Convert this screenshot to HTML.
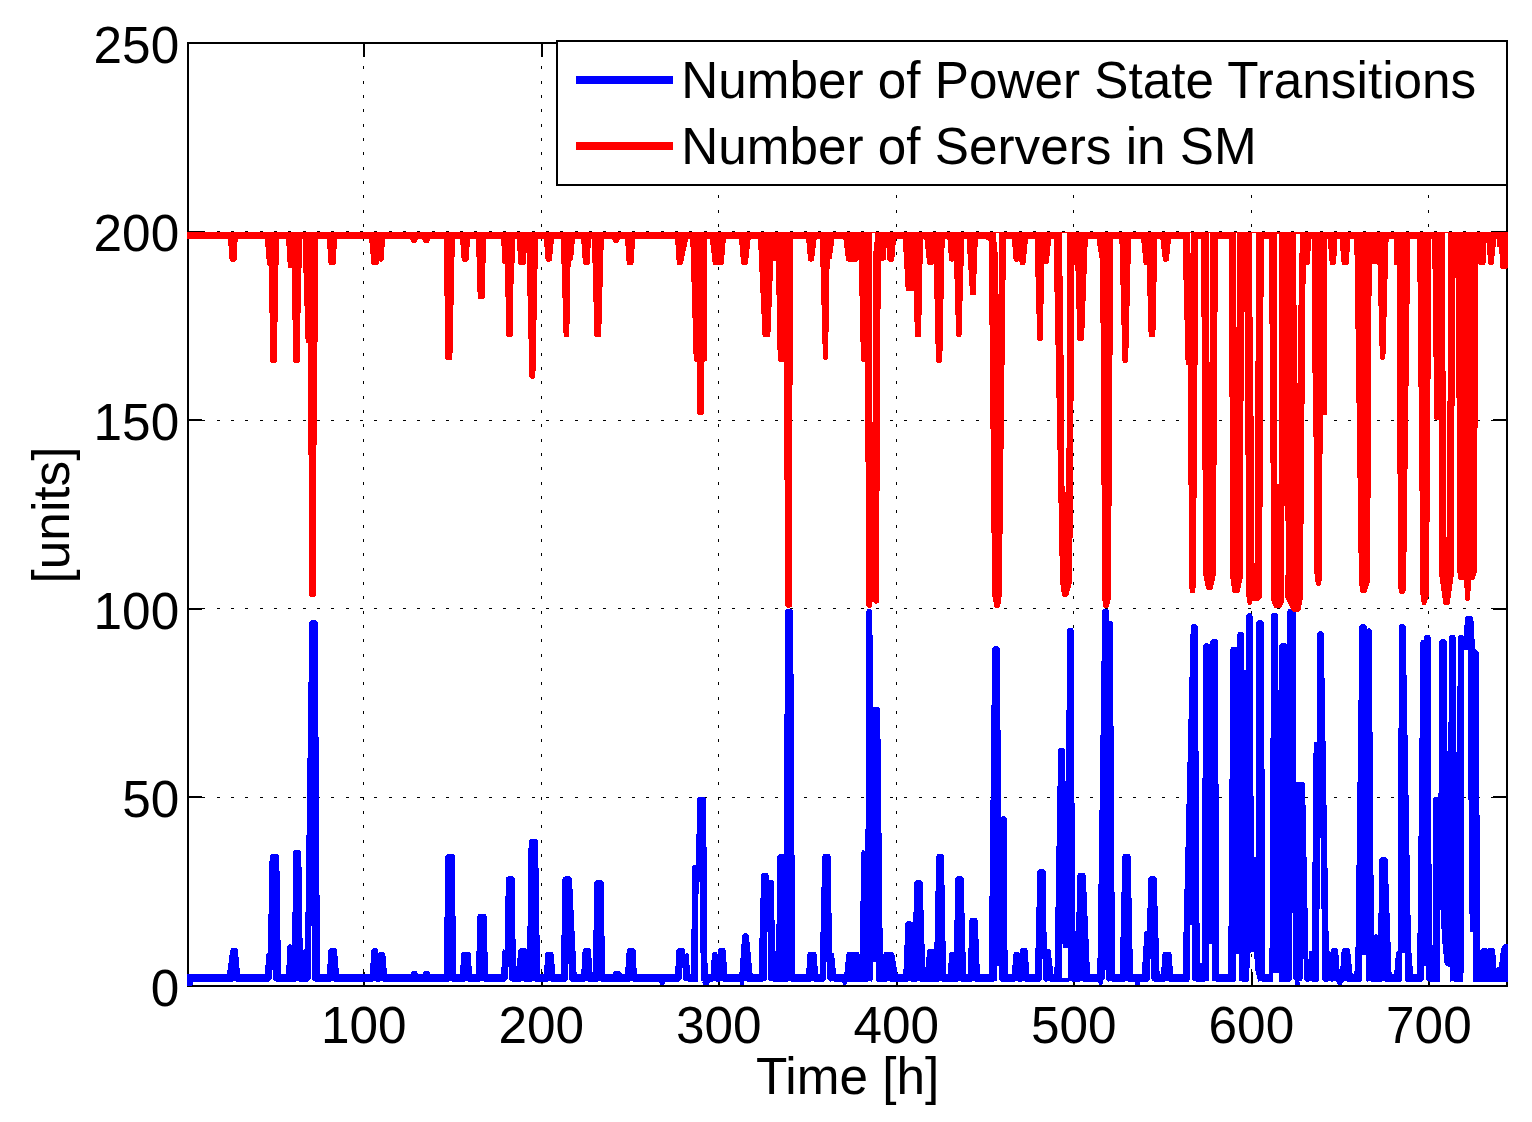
<!DOCTYPE html>
<html lang="en"><head><meta charset="utf-8"><title>Power State Transitions</title>
<style>html,body{margin:0;padding:0;background:#fff}svg{display:block}text{font-family:"Liberation Sans",Arial,Helvetica,sans-serif;font-size:51.3px;fill:#000}</style></head><body>
<svg width="1532" height="1122" viewBox="0 0 1532 1122">
<rect x="0" y="0" width="1532" height="1122" fill="#fff"/>
<g><g stroke="#000" stroke-width="2" shape-rendering="crispEdges" fill="none">
<rect x="188" y="43" width="1319" height="943"/>
<line x1="364" y1="985" x2="364" y2="972"/>
<line x1="364" y1="44" x2="364" y2="57"/>
<line x1="542" y1="985" x2="542" y2="972"/>
<line x1="542" y1="44" x2="542" y2="57"/>
<line x1="719" y1="985" x2="719" y2="972"/>
<line x1="719" y1="44" x2="719" y2="57"/>
<line x1="897" y1="985" x2="897" y2="972"/>
<line x1="897" y1="44" x2="897" y2="57"/>
<line x1="1074" y1="985" x2="1074" y2="972"/>
<line x1="1074" y1="44" x2="1074" y2="57"/>
<line x1="1252" y1="985" x2="1252" y2="972"/>
<line x1="1252" y1="44" x2="1252" y2="57"/>
<line x1="1429" y1="985" x2="1429" y2="972"/>
<line x1="1429" y1="44" x2="1429" y2="57"/>
<line x1="189" y1="797" x2="202" y2="797"/>
<line x1="1506" y1="797" x2="1493" y2="797"/>
<line x1="189" y1="609" x2="202" y2="609"/>
<line x1="1506" y1="609" x2="1493" y2="609"/>
<line x1="189" y1="420" x2="202" y2="420"/>
<line x1="1506" y1="420" x2="1493" y2="420"/>
<line x1="189" y1="232" x2="202" y2="232"/>
<line x1="1506" y1="232" x2="1493" y2="232"/>
</g>
<g stroke="#000" stroke-width="1" shape-rendering="crispEdges" fill="none" stroke-dasharray="3 11.324">
<line x1="363.5" y1="986" x2="363.5" y2="43" stroke-dashoffset="0"/>
<line x1="541.5" y1="986" x2="541.5" y2="43" stroke-dashoffset="0"/>
<line x1="718.5" y1="986" x2="718.5" y2="43" stroke-dashoffset="0"/>
<line x1="896.5" y1="986" x2="896.5" y2="43" stroke-dashoffset="0"/>
<line x1="1073.5" y1="986" x2="1073.5" y2="43" stroke-dashoffset="0"/>
<line x1="1251.5" y1="986" x2="1251.5" y2="43" stroke-dashoffset="0"/>
<line x1="1428.5" y1="986" x2="1428.5" y2="43" stroke-dashoffset="0"/>
<line x1="188" y1="797.5" x2="1507" y2="797.5" stroke-dashoffset="0"/>
<line x1="188" y1="608.5" x2="1507" y2="608.5" stroke-dashoffset="0"/>
<line x1="188" y1="420.5" x2="1507" y2="420.5" stroke-dashoffset="0"/>
<line x1="188" y1="231.5" x2="1507" y2="231.5" stroke-dashoffset="0"/>
</g></g>
<g shape-rendering="crispEdges" stroke="none">
<rect x="187" y="974" width="1321" height="8" fill="#00f"/>
<path fill="#00f" d="M187,974.8L189.5,973.8L193.2,981.9L192.2,986L187,986ZM227,982L227,974L230.2,950.3L230.9,948.7L232.5,948L235.6,948L237.2,948.7L237.9,950.3L240.1,974L240.1,982ZM264.9,982L264.9,974L266.2,954.6L266.8,953.3L268.1,952.7L268.1,952.7L269.4,953.3L269.9,954.6L269.9,974L269.9,982ZM267.4,982L267.4,974L269.6,856.3L270.3,854.7L271.9,854L277,854L278.6,854.7L279.3,856.3L281,974L281,982ZM286.1,982L286.1,974L287.3,946.6L287.9,944.9L289.6,944.3L290.6,944.3L292.2,944.9L292.9,946.6L292.9,974L292.9,982ZM292,982L292,974L293,852.4L293.7,850.8L295.3,850.1L299,850.1L300.7,850.8L301.3,852.4L303,974L303,982ZM302.2,982L302.2,974L303,951L303.6,949.9L304.7,949.3L304.7,949.3L305.9,949.9L306.4,951L306.4,974L306.4,982ZM304.7,982L304.7,974L309.3,622.4L310,620.8L311.6,620.1L315.5,620.1L317.1,620.8L317.8,622.4L320,974L320,982ZM326.8,982L326.8,974L328.5,950.3L329.2,948.7L330.8,948L334.7,948L336.3,948.7L337,950.3L339,974L339,982ZM369.7,982L369.7,974L371.4,950.3L372.1,948.7L373.7,948L375.9,948L377.5,948.7L378.2,950.3L379.4,974L379.4,982ZM376.9,982L376.9,974L377.7,954.2L378.4,952.6L380,951.9L383.1,951.9L384.7,952.6L385.4,954.2L387,974L387,982ZM410,982L410,974L411.1,973.4L411.8,971.8L413.4,971.1L415.6,971.1L417.2,971.8L417.9,973.4L419,974L419,982ZM421.8,982L421.8,974L423,973.4L423.7,971.8L425.3,971.1L427.9,971.1L429.5,971.8L430.2,973.4L431.2,974L431.2,982ZM443.7,982L443.7,974L445.4,856.3L446.1,854.7L447.7,854L452.6,854L454.2,854.7L454.9,856.3L456.1,974L456.1,982ZM460,982L460,974L461.2,954.2L461.9,952.6L463.5,951.9L468.6,951.9L470.2,952.6L470.9,954.2L471.9,974L471.9,982ZM476,982L476,974L477.3,916.3L478,914.7L479.6,914L484.4,914L486,914.7L486.7,916.3L488,974L488,982ZM501.1,982L501.1,974L502.5,950.8L502.9,949.8L503.9,949.3L503.9,949.3L504.9,949.8L505.3,950.8L505.3,974L505.3,982ZM504.2,982L504.2,974L505.8,878.7L506.5,877.1L508.1,876.4L512.4,876.4L514,877.1L514.7,878.7L516,974L516,982ZM515.5,982L515.5,974L518.4,950.3L519.1,948.7L520.7,948L525.1,948L526.7,948.7L527.4,950.3L528.3,974L528.3,982ZM526.9,982L526.9,974L528.6,841.3L529.3,839.7L530.9,839L535.8,839L537.4,839.7L538.1,841.3L540.1,974L540.1,982ZM543.9,982L543.9,974L545.2,954.2L545.9,952.6L547.5,951.9L551.4,951.9L553,952.6L553.7,954.2L555.4,974L555.4,982ZM560.8,982L560.8,974L562.5,878.7L563.2,877.1L564.8,876.4L569.7,876.4L571.3,877.1L572,878.7L576.6,974L576.6,982ZM581.2,982L581.2,974L582.6,950.3L583.2,948.7L584.9,948L588.7,948L590.4,948.7L591,950.3L592.7,974L592.7,982ZM592.7,982L592.7,974L594.4,882.4L595.1,880.8L596.7,880.1L601.5,880.1L603.1,880.8L603.8,882.4L605,974L605,982ZM611.7,982L611.7,974L613.1,973.4L613.8,971.8L615.4,971.1L619.3,971.1L620.9,971.8L621.6,973.4L623,974L623,982ZM625,982L625,974L626.7,950.3L627.4,948.7L629,948L633.2,948L634.8,948.7L635.5,950.3L636.9,974L636.9,982ZM658.9,981L660.4,985L664.2,985L665.7,981ZM675.1,982L675.1,974L676.4,950.3L677.1,948.7L678.7,948L682.9,948L684.5,948.7L685.2,950.3L686.1,974L686.1,982ZM684.4,982L684.4,974L685.2,954.4L685.7,953.3L686.9,952.7L686.9,952.7L688.1,953.3L688.6,954.4L690.3,974L690.3,982ZM690.8,982L690.8,974L692.5,866.4L693.1,865.1L694.4,864.5L694.4,864.5L695.7,865.1L696.3,866.4L696.3,974L696.3,982ZM694.2,982L694.2,974L697.1,799.2L697.8,797.6L699.4,796.9L703.8,796.9L705.4,797.6L706.1,799.2L707.6,974L707.6,982ZM701.7,981L703.2,985L708.7,985L710.2,981ZM710.5,982L710.5,974L711.9,954.2L712.6,952.6L714.2,951.9L715.5,951.9L717.1,952.6L717.8,954.2L718.7,974L718.7,982ZM716.6,982L716.6,974L717.7,950.3L718.3,948.7L720,948L723.5,948L725.1,948.7L725.8,950.3L727.2,974L727.2,982ZM739.4,982L739.4,974L742.1,935.5L742.8,933.9L744.4,933.2L746.6,933.2L748.2,933.9L748.9,935.5L752.6,974L752.6,982ZM739,981L740.5,985L743.5,985L745,981ZM758.6,982L758.6,974L761.1,875.3L761.8,873.7L763.4,873L766.4,873L768,873.7L768.7,875.3L769.6,974L769.6,982ZM767.9,982L767.9,974L768.7,882.1L769.4,880.5L771,879.8L771.5,879.8L773.1,880.5L773.8,882.1L775.5,974L775.5,982ZM774.3,982L774.3,974L774.3,952.6L774.7,951.6L775.7,951.2L775.7,951.2L776.6,951.6L777,952.6L777,974L777,982ZM776,982L776,974L777.2,856.6L777.9,855L779.5,854.3L792.7,854.3L794.3,855L795,856.6L795,974L795,982ZM782.8,982L782.8,974L785.2,611.2L785.9,609.6L787.5,608.9L790.9,608.9L792.5,609.6L793.2,611.2L795,974L795,982ZM806.1,982L806.1,974L807.4,954.2L808.1,952.6L809.7,951.9L814.5,951.9L816.1,952.6L816.8,954.2L818,974L818,982ZM819.6,982L819.6,974L822.2,856.3L822.9,854.7L824.5,854L828.4,854L830,854.7L830.7,856.3L832.4,974L832.4,982ZM830.7,982L830.7,974L831.5,954L831.9,953.1L832.8,952.7L832.8,952.7L833.7,953.1L834.1,954L836.1,974L836.1,982ZM844.3,982L844.3,974L846.3,954.2L847,952.6L848.6,951.9L857.2,951.9L858.8,952.6L859.5,954.2L860.4,974L860.4,982ZM841.7,981L843.2,985L846.2,985L847.7,981ZM859.5,982L859.5,974L861.2,852.2L861.9,850.7L863.3,850.1L863.3,850.1L864.8,850.7L865.5,852.2L865.5,974L865.5,982ZM865,982L865,974L866.3,611.2L867,609.6L868.6,608.9L870.1,608.9L871.7,609.6L872.4,611.2L874.1,974L874.1,982ZM869.7,982L869.7,974L869.7,709.3L870.4,707.7L872,707L877.9,707L879.5,707.7L880.2,709.3L883,974L883,982ZM882.4,982L882.4,974L883.3,954.2L884,952.6L885.6,951.9L892,951.9L893.6,952.6L894.3,954.2L897.7,974L897.7,982ZM903.3,982L903.3,974L905.4,923.6L906,922L907.7,921.3L910.7,921.3L912.3,922L913,923.6L913.8,974L913.8,982ZM912.1,982L912.1,974L914.2,882.4L914.9,880.8L916.5,880.1L920.4,880.1L922,880.8L922.7,882.4L925.4,974L925.4,982ZM924.9,982L924.9,974L927.1,950.8L927.8,949.2L929.4,948.5L932.8,948.5L934.4,949.2L935.1,950.8L935.1,974L935.1,982ZM933.9,982L933.9,974L936.2,856.3L936.9,854.7L938.5,854L941.7,854L943.4,854.7L944,856.3L946.1,974L946.1,982ZM947.8,982L947.8,974L949.1,954.2L949.8,952.6L951.4,951.9L953.1,951.9L954.7,952.6L955.4,954.2L955.4,974L955.4,982ZM953.4,982L953.4,974L955.4,878.7L956.1,877.1L957.7,876.4L961.3,876.4L962.9,877.1L963.6,878.7L966.1,974L966.1,982ZM967.8,982L967.8,974L969.3,920.3L970,918.6L971.6,918L975.5,918L977.1,918.6L977.8,920.3L979.9,974L979.9,982ZM988.7,982L988.7,974L992.1,648.5L992.8,646.9L994.4,646.2L997.4,646.2L999,646.9L999.7,648.5L1003,974L1003,982ZM1000.9,982L1000.9,974L1000.9,818.4L1001.6,816.8L1003.2,816.1L1004.2,816.1L1005.8,816.8L1006.5,818.4L1007.7,974L1007.7,982ZM1011.9,982L1011.9,974L1013.3,954.2L1014,952.6L1015.6,951.9L1017.6,951.9L1019.2,952.6L1019.9,954.2L1020.4,974L1020.4,982ZM1018.7,982L1018.7,974L1019.6,950.3L1020.3,948.7L1021.9,948L1025.4,948L1027,948.7L1027.7,950.3L1029.3,974L1029.3,982ZM1034.9,982L1034.9,974L1037.4,871.4L1038.1,869.8L1039.7,869.1L1043.2,869.1L1044.9,869.8L1045.5,871.4L1047.2,974L1047.2,982ZM1045.9,982L1045.9,974L1046.7,950.4L1047.3,949.1L1048.6,948.5L1048.6,948.5L1049.9,949.1L1050.5,950.4L1053.5,974L1053.5,982ZM1054.4,982L1054.4,974L1058.1,750.4L1058.8,748.8L1060.4,748.1L1063.1,748.1L1064.7,748.8L1065.4,750.4L1065.4,974L1065.4,982ZM1064.6,982L1064.6,974L1067.1,630.4L1067.8,628.8L1069.4,628.1L1071.6,628.1L1073.2,628.8L1073.9,630.4L1075.1,974L1075.1,982ZM1063.7,982L1063.7,974L1063.7,782.9L1064.3,781.5L1065.8,780.8L1065.8,780.8L1067.3,781.5L1068,782.9L1068,974L1068,982ZM1075.2,982L1075.2,974L1077.3,875.3L1078,873.7L1079.6,873L1083.5,873L1085.1,873.7L1085.8,875.3L1090,974L1090,982ZM1073.9,982L1073.9,974L1074.7,932L1075.1,931.1L1076,930.7L1076,930.7L1076.9,931.1L1077.3,932L1077.3,974L1077.3,982ZM1097.3,982L1097.3,974L1102.2,611.2L1102.9,609.6L1104.5,608.9L1106.9,608.9L1108.5,609.6L1109.2,611.2L1110.4,974L1110.4,982ZM1107.8,982L1107.8,974L1108.7,622.6L1109.3,621.1L1110.8,620.4L1110.8,620.4L1112.3,621.1L1112.9,622.6L1115,974L1115,982ZM1097.7,981L1099.2,985L1102.1,985L1103.6,981ZM1119.7,982L1119.7,974L1122.3,856.3L1122.9,854.7L1124.6,854L1128.4,854L1130.1,854.7L1130.7,856.3L1133,974L1133,982ZM1141.8,982L1141.8,974L1144.3,932.8L1145,931.3L1146.4,930.7L1146.4,930.7L1147.9,931.3L1148.6,932.8L1148.6,974L1148.6,982ZM1146,982L1146,974L1148.2,878.7L1148.9,877.1L1150.5,876.4L1154.4,876.4L1156,877.1L1156.7,878.7L1159.6,974L1159.6,982ZM1134.1,981L1135.6,985L1139.4,985L1140.9,981ZM1161,982L1161,974L1162.5,954.2L1163.2,952.6L1164.8,951.9L1169.2,951.9L1170.8,952.6L1171.5,954.2L1173.2,974L1173.2,982ZM1182.5,982L1182.5,974L1190.7,626.5L1191.3,624.9L1193,624.2L1195.5,624.2L1197.1,624.9L1197.8,626.5L1199.8,974L1199.8,982ZM1199.3,982L1199.3,974L1199.3,964.4L1199.8,963.4L1200.8,962.9L1200.8,962.9L1201.8,963.4L1202.2,964.4L1202.2,974L1202.2,982ZM1201.5,982L1201.5,974L1203.2,645.7L1203.9,644L1205.5,643.4L1207.7,643.4L1209.3,644L1210,645.7L1210.4,974L1210.4,982ZM1209,982L1209,974L1210.4,641.4L1211.1,639.8L1212.7,639.1L1215.7,639.1L1217.3,639.8L1218,641.4L1219.2,974L1219.2,982ZM1228.2,982L1228.2,974L1230.4,649L1231.1,647.4L1232.7,646.7L1235.2,646.7L1236.8,647.4L1237.5,649L1237.5,974L1237.5,982ZM1236.7,982L1236.7,974L1237.5,633.8L1238.2,632.2L1239.8,631.5L1241.7,631.5L1243.3,632.2L1244,633.8L1245.2,974L1245.2,982ZM1245.7,982L1245.7,974L1246.3,615.6L1247,614L1248.6,613.3L1250.2,613.3L1251.8,614L1252.5,615.6L1254.5,974L1254.5,982ZM1243.5,982L1243.5,974L1243.5,671.4L1244,670.2L1245.2,669.7L1245.2,669.7L1246.3,670.2L1246.9,671.4L1246.9,974L1246.9,982ZM1252.8,982L1252.8,974L1252.8,859L1253.4,857.5L1254.9,856.9L1254.9,856.9L1256.4,857.5L1257,859L1257,974L1257,982ZM1255.8,982L1255.8,974L1256.5,622.4L1257.2,620.8L1258.8,620.1L1261.5,620.1L1263.1,620.8L1263.8,622.4L1265.5,974L1265.5,982ZM1269.4,982L1269.4,974L1271.1,615.1L1271.8,613.5L1273.4,612.8L1275.6,612.8L1277.2,613.5L1277.9,615.1L1278.6,974L1278.6,982ZM1278.6,982L1278.6,974L1279.1,645.7L1279.8,644L1281.4,643.4L1285.3,643.4L1286.9,644L1287.6,645.7L1287.6,974L1287.6,982ZM1277.4,982L1277.4,974L1277.4,691.1L1277.7,690.4L1278.5,690L1278.5,690L1279.3,690.4L1279.6,691.1L1279.6,974L1279.6,982ZM1286.7,982L1286.7,974L1287.4,611.2L1288.1,609.6L1289.7,608.9L1293.3,608.9L1294.9,609.6L1295.6,611.2L1297.3,974L1297.3,982ZM1294.5,982L1294.5,974L1295.2,784.3L1295.9,782.7L1297.5,782L1302.8,782L1304.4,782.7L1305.1,784.3L1308.8,974L1308.8,982ZM1308,982L1308,974L1308.8,952.7L1309.3,951.6L1310.5,951L1310.5,951L1311.7,951.6L1312.2,952.7L1313.9,974L1313.9,982ZM1316.1,982L1316.1,974L1317.5,633.4L1318.2,631.8L1319.8,631.1L1321.5,631.1L1323.1,631.8L1323.8,633.4L1329.2,974L1329.2,982ZM1311.5,982L1311.5,974L1313.6,743.9L1314.2,742.4L1315.7,741.8L1315.7,741.8L1317.2,742.4L1317.8,743.9L1317.8,974L1317.8,982ZM1328,982L1328,974L1328.9,951.9L1329.1,951.3L1329.7,951L1329.7,951L1330.3,951.3L1330.6,951.9L1331.4,974L1331.4,982ZM1329.4,982L1329.4,974L1331.1,950.3L1331.8,948.7L1333.4,948L1335.9,948L1337.5,948.7L1338.2,950.3L1339.9,974L1339.9,982ZM1339.9,982L1339.9,974L1341.6,950.3L1342.3,948.7L1343.9,948L1347.8,948L1349.4,948.7L1350.1,950.3L1352.6,974L1352.6,982ZM1355.2,982L1355.2,974L1359.4,626.5L1360.1,624.9L1361.7,624.2L1364.4,624.2L1366,624.9L1366.7,626.5L1367.4,974L1367.4,982ZM1366.2,982L1366.2,974L1367,630.4L1367.7,628.8L1369.3,628.1L1369.5,628.1L1371.1,628.8L1371.8,630.4L1374.2,974L1374.2,982ZM1373.5,982L1373.5,974L1373.8,936.2L1374.5,934.7L1375.9,934.1L1375.9,934.1L1377.4,934.7L1378.1,936.2L1378.1,974L1378.1,982ZM1354.3,982L1354.3,974L1355.5,955.1L1355.7,954.6L1356.2,954.4L1356.2,954.4L1356.7,954.6L1356.9,955.1L1356.9,974L1356.9,982ZM1377.6,982L1377.6,974L1379.3,859.7L1379.9,858.1L1381.6,857.4L1385.4,857.4L1387.1,858.1L1387.7,859.7L1391.6,974L1391.6,982ZM1397.6,982L1397.6,974L1398.9,626.5L1399.6,624.9L1401.2,624.2L1403.4,624.2L1405,624.9L1405.7,626.5L1411.5,974L1411.5,982ZM1394.2,982L1394.2,974L1395.9,953.3L1396.6,951.7L1398.2,951L1409.2,951L1410.8,951.7L1411.5,953.3L1413.2,974L1413.2,982ZM1417.1,982L1417.1,974L1420.5,641.8L1421.1,640.5L1422.4,640L1422.4,640L1423.7,640.5L1424.2,641.8L1424.2,974L1424.2,982ZM1423,982L1423,974L1424.2,637.2L1424.9,635.6L1426.5,634.9L1428.4,634.9L1430,635.6L1430.7,637.2L1431.9,974L1431.9,982ZM1431.2,982L1431.2,974L1431.2,946.5L1431.6,945.5L1432.6,945.1L1432.6,945.1L1433.6,945.5L1434.1,946.5L1434.1,974L1434.1,982ZM1437.6,982L1437.6,974L1439.3,641.4L1440,639.8L1441.6,639.1L1444.5,639.1L1446.1,639.8L1446.8,641.4L1447.7,974L1447.7,982ZM1432.9,982L1432.9,974L1433.2,798.9L1433.9,797.3L1435.5,796.6L1436,796.6L1437.6,797.3L1438.3,798.9L1438.3,974L1438.3,982ZM1447.7,982L1447.7,974L1448.8,637.2L1449.5,635.6L1451.1,634.9L1453.3,634.9L1454.9,635.6L1455.6,637.2L1456.5,974L1456.5,982ZM1456.5,982L1456.5,974L1457.7,637.2L1458.4,635.6L1460,634.9L1461.8,634.9L1463.4,635.6L1464.1,637.2L1463.8,974L1463.8,982ZM1446.8,982L1446.8,974L1446.8,752L1447.1,751.4L1447.7,751.1L1447.7,751.1L1448.2,751.4L1448.5,752L1448.5,974L1448.5,982ZM1455.6,982L1455.6,974L1455.6,752.8L1455.9,752.2L1456.5,752L1456.5,752L1457.1,752.2L1457.3,752.8L1457.3,974L1457.3,982ZM1463.8,650.1L1463.8,634.5L1465,618.1L1466.5,616.2L1471.8,616.2L1473.3,618.1L1474.3,634L1475,649.3L1476.5,649.8L1478.7,652.3L1478.7,815.3L1479.9,815.3L1479.9,974.8L1473.1,974.8L1473.1,932.4L1470.2,932.4L1470.2,913.7L1468.9,913.7L1468.9,800L1468.4,800L1468.4,650.1ZM1479.4,982L1479.4,974L1480.4,950.3L1481.1,948.7L1482.7,948L1493,948L1494.7,948.7L1495.3,950.3L1496.4,974L1496.4,982ZM1499.1,974.8L1499.1,967.2L1500.3,953.6L1501.5,948.5L1503.1,945.1L1505.4,943.9L1508.2,943.9L1508.2,982.4L1499.1,982.4ZM1495.7,982L1495.7,974L1495.7,969.3L1496.4,967.7L1498,967L1498,967L1499.6,967.7L1500.3,969.3L1500.3,974L1500.3,982ZM1294.1,981L1295.6,985L1299.4,985L1300.9,981ZM1336.5,981L1338,985L1341.8,985L1343.3,981Z"/>
<rect x="271.7" y="969.7" width="1" height="12.7" fill="#fff"/>
<rect x="310.5" y="926.4" width="1" height="56" fill="#fff"/>
<rect x="507.7" y="967.2" width="1" height="15.3" fill="#fff"/>
<rect x="568" y="963.8" width="1" height="18.7" fill="#fff"/>
<rect x="681.8" y="968" width="1" height="14.4" fill="#fff"/>
<rect x="766.6" y="931.5" width="1.8" height="50.9" fill="#fff"/>
<rect x="826.4" y="962.1" width="1" height="20.4" fill="#fff"/>
<rect x="872.8" y="962.1" width="3" height="20.4" fill="#fff"/>
<rect x="997.4" y="965.5" width="2" height="17" fill="#fff"/>
<rect x="1042" y="958.7" width="1" height="23.8" fill="#fff"/>
<rect x="1065.1" y="749.4" width="1" height="31.4" fill="#fff"/>
<rect x="1104.8" y="969.7" width="1" height="12.7" fill="#fff"/>
<rect x="1150.1" y="958.7" width="1" height="23.8" fill="#fff"/>
<rect x="1190.2" y="924.7" width="2.2" height="57.7" fill="#fff"/>
<rect x="1209.1" y="944.3" width="2.5" height="38.2" fill="#fff"/>
<rect x="1236.2" y="954.4" width="2.6" height="28" fill="#fff"/>
<rect x="1292.2" y="912.9" width="1" height="69.6" fill="#fff"/>
<rect x="1273.2" y="973.1" width="6" height="9.3" fill="#fff"/>
<rect x="1319.8" y="838.2" width="1.2" height="70.4" fill="#fff"/>
<rect x="1319.4" y="908.6" width="3" height="73.8" fill="#fff"/>
<rect x="1361.9" y="954.8" width="4.5" height="27.7" fill="#fff"/>
<rect x="1401.9" y="952.7" width="3" height="29.7" fill="#fff"/>
<rect x="1496.9" y="952.7" width="2" height="14.3" fill="#fff"/>
<rect x="1302.6" y="958.7" width="1.5" height="23.8" fill="#fff"/>
<rect x="1424" y="966.3" width="1.5" height="16.1" fill="#fff"/>
<path fill="#fff" d="M698.6,881.8L699.5,881.8L700.5,952.7L700.7,982.4L698,982.4L698.1,952.7ZM1062.2,943.1L1063.4,947.8L1068,947.8L1068,978.4L1062.2,978.4ZM1250.6,952.1L1254,952.1L1255.3,969.7L1258.2,982.4L1248.9,982.4L1249.4,969.7ZM1439.8,910L1440.7,910L1441,920L1442.2,941L1443.4,952.9L1444.3,962.9L1445.8,965.5L1449,967L1450.2,968L1450.2,983.3L1439.8,983.3ZM1463.3,973.1L1472.9,973.1L1472.9,983.3L1463.3,983.3ZM1486,947L1487.2,950.4L1488.4,947ZM231.9,982L233.4,980.8L234.8,980.8L236.3,982ZM272.2,982L273.7,980.8L275.1,980.8L276.6,982ZM269,982L271.7,979L272.7,979L275.4,982ZM295,982L296.5,980.8L297.9,980.8L299.4,982ZM311.4,982L312.9,980.8L314.3,980.8L315.8,982ZM307.8,982L310.5,979L311.5,979L314.2,982ZM330.5,982L332,980.8L333.4,980.8L334.9,982ZM372.6,982L374.1,980.8L375.5,980.8L377,982ZM379.3,982L380.8,980.8L382.2,980.8L383.7,982ZM448,982L449.5,980.8L450.9,980.8L452.4,982ZM463.9,982L465.4,980.8L466.8,980.8L468.3,982ZM479.8,982L481.3,980.8L482.7,980.8L484.2,982ZM508.1,982L509.6,980.8L511,980.8L512.5,982ZM505,982L507.7,979L508.7,979L511.4,982ZM520.7,982L522.2,980.8L523.6,980.8L525.1,982ZM531.1,982L532.6,980.8L534,980.8L535.5,982ZM547.3,982L548.8,980.8L550.2,980.8L551.7,982ZM565.1,982L566.6,980.8L568,980.8L569.5,982ZM565.3,982L568,979L569,979L571.7,982ZM584.6,982L586.1,980.8L587.5,980.8L589,982ZM596.9,982L598.4,980.8L599.8,980.8L601.3,982ZM628.9,982L630.4,980.8L631.8,980.8L633.3,982ZM678.6,982L680.1,980.8L681.5,980.8L683,982ZM684.7,982L686.2,980.8L687.6,980.8L689.1,982ZM679.1,982L681.8,979L682.8,979L685.5,982ZM699.4,982L700.9,980.8L702.3,980.8L703.8,982ZM712.6,982L714.1,980.8L715.5,980.8L717,982ZM719.5,982L721,980.8L722.4,980.8L723.9,982ZM743.3,982L744.8,980.8L746.2,980.8L747.7,982ZM762.7,982L764.2,980.8L765.6,980.8L767.1,982ZM769.1,982L770.6,980.8L772,980.8L773.5,982ZM764.3,982L767,979L768,979L770.7,982ZM787,982L788.5,980.8L789.9,980.8L791.4,982ZM809.9,982L811.4,980.8L812.8,980.8L814.3,982ZM824.2,982L825.7,980.8L827.1,980.8L828.6,982ZM830.6,982L832.1,980.8L833.5,980.8L835,982ZM823.7,982L826.4,979L827.4,979L830.1,982ZM867.2,982L868.7,980.8L870.1,980.8L871.6,982ZM871.1,982L873.8,979L874.8,979L877.5,982ZM886.6,982L888.1,980.8L889.5,980.8L891,982ZM907,982L908.5,980.8L909.9,980.8L911.4,982ZM916.2,982L917.7,980.8L919.1,980.8L920.6,982ZM937.9,982L939.4,980.8L940.8,980.8L942.3,982ZM957.3,982L958.8,980.8L960.2,980.8L961.7,982ZM971.4,982L972.9,980.8L974.3,980.8L975.8,982ZM993.7,982L995.2,980.8L996.6,980.8L998.1,982ZM995.2,982L997.9,979L998.9,979L1001.6,982ZM1014.4,982L1015.9,980.8L1017.3,980.8L1018.8,982ZM1021.5,982L1023,980.8L1024.4,980.8L1025.9,982ZM1039.3,982L1040.8,980.8L1042.2,980.8L1043.7,982ZM1046.4,982L1047.9,980.8L1049.3,980.8L1050.8,982ZM1039.3,982L1042,979L1043,979L1045.7,982ZM1068.3,982L1069.8,980.8L1071.2,980.8L1072.7,982ZM1079.3,982L1080.8,980.8L1082.2,980.8L1083.7,982ZM1103.5,982L1105,980.8L1106.4,980.8L1107.9,982ZM1108.6,982L1110.1,980.8L1111.5,980.8L1113,982ZM1102.1,982L1104.8,979L1105.8,979L1108.5,982ZM1124.3,982L1125.8,980.8L1127.2,980.8L1128.7,982ZM1150.3,982L1151.8,980.8L1153.2,980.8L1154.7,982ZM1147.4,982L1150.1,979L1151.1,979L1153.8,982ZM1164.8,982L1166.3,980.8L1167.7,980.8L1169.2,982ZM1192,982L1193.5,980.8L1194.9,980.8L1196.4,982ZM1188.1,982L1190.8,979L1191.8,979L1194.5,982ZM1204.4,982L1205.9,980.8L1207.3,980.8L1208.8,982ZM1212,982L1213.5,980.8L1214.9,980.8L1216.4,982ZM1207.2,982L1209.9,979L1210.9,979L1213.6,982ZM1238.5,982L1240,980.8L1241.4,980.8L1242.9,982ZM1247.2,982L1248.7,980.8L1250.1,980.8L1251.6,982ZM1258,982L1259.5,980.8L1260.9,980.8L1262.4,982ZM1234.3,982L1237,979L1238,979L1240.7,982ZM1272.3,982L1273.8,980.8L1275.2,980.8L1276.7,982ZM1289.3,982L1290.8,980.8L1292.2,980.8L1293.7,982ZM1297.9,982L1299.4,980.8L1300.8,980.8L1302.3,982ZM1308.3,982L1309.8,980.8L1311.2,980.8L1312.7,982ZM1289.5,982L1292.2,979L1293.2,979L1295.9,982ZM1273,982L1275.7,979L1276.7,979L1279.4,982ZM1318.4,982L1319.9,980.8L1321.3,980.8L1322.8,982ZM1317.7,982L1320.4,979L1321.4,979L1324.1,982ZM1327.5,982L1329,980.8L1330.4,980.8L1331.9,982ZM1332.4,982L1333.9,980.8L1335.3,980.8L1336.8,982ZM1343.6,982L1345.1,980.8L1346.5,980.8L1348,982ZM1360.9,982L1362.4,980.8L1363.8,980.8L1365.3,982ZM1367.2,982L1368.7,980.8L1370.1,980.8L1371.6,982ZM1381.3,982L1382.8,980.8L1384.2,980.8L1385.7,982ZM1361,982L1363.7,979L1364.7,979L1367.4,982ZM1400.1,982L1401.6,980.8L1403,980.8L1404.5,982ZM1400.2,982L1402.9,979L1403.9,979L1406.6,982ZM1425.3,982L1426.8,980.8L1428.2,980.8L1429.7,982ZM1440.9,982L1442.4,980.8L1443.8,980.8L1445.3,982ZM1450,982L1451.5,980.8L1452.9,980.8L1454.4,982ZM1300.2,982L1302.9,979L1303.9,979L1306.6,982ZM1421.5,982L1424.2,979L1425.2,979L1427.9,982Z"/>
<rect x="187" y="232" width="1321" height="7" fill="#f00"/>
<path fill="#f00" d="M228,232L228,239L229.6,259.9L230,261L231.2,261.5L234.9,261.5L236,261L236.5,259.9L237.7,239L237.7,232ZM264.9,232L264.9,239L266.9,264.1L267.4,265.3L268.5,265.7L277.2,265.7L278.3,265.3L278.8,264.1L278.8,239L278.8,232ZM268.3,232L268.3,239L270.3,361.2L270.8,362.3L271.9,362.8L275.5,362.8L276.6,362.3L277.1,361.2L278.4,239L278.4,232ZM286.1,232L286.1,239L287.8,266.7L288.2,267.8L289.4,268.3L300.6,268.3L301.7,267.8L302.2,266.7L302.2,239L302.2,232ZM291.2,232L291.2,239L293.2,361.2L293.7,362.3L294.8,362.8L298.4,362.8L299.5,362.3L300,361.2L301.3,239L301.3,232ZM302.5,232L302.5,239L305.6,341.4L306.1,342.5L307.2,343L316.2,343L317.3,342.5L317.8,341.4L317.8,239L317.8,232ZM307.3,232L307.3,239L309.3,595.2L309.8,596.4L310.9,596.8L314.2,596.8L315.3,596.4L315.8,595.2L317.5,239L317.5,232ZM326.8,232L326.8,239L328.5,263.3L329,264.4L330.1,264.9L334.2,264.9L335.3,264.4L335.8,263.3L337,239L337,232ZM369.2,232L369.2,239L371.4,263.3L371.9,264.4L373,264.9L377,264.9L378.1,264.4L378.6,263.3L379.4,239L379.4,232ZM377.7,232L377.7,239L378.6,259.9L379,261L380.2,261.5L382.1,261.5L383.2,261L383.7,259.9L385,239L385,232ZM410,232L410,239L411.1,241.2L411.6,242.3L412.7,242.8L415.1,242.8L416.3,242.3L416.7,241.2L417.9,239L417.9,232ZM421.8,232L421.8,239L423,241.2L423.5,242.3L424.6,242.8L427.9,242.8L429,242.3L429.5,241.2L430.7,239L430.7,232ZM443.7,232L443.7,239L445.4,358.3L445.9,359.4L447,359.9L450.8,359.9L451.9,359.4L452.4,358.3L454.9,239L454.9,232ZM460,232L460,239L461.7,259.9L462.2,261L463.3,261.5L466.9,261.5L468,261L468.5,259.9L470.2,239L470.2,232ZM476,232L476,239L477.7,297.6L478.2,298.7L479.3,299.2L482.9,299.2L484,298.7L484.5,297.6L486.2,239L486.2,232ZM501.1,232L501.1,239L502.5,262.8L502.9,263.9L504.1,264.4L513.1,264.4L514.2,263.9L514.7,262.8L514.7,239L514.7,232ZM504.5,232L504.5,239L506.2,335.4L506.7,336.5L507.8,337L511,337L512.2,336.5L512.6,335.4L514.3,239L514.3,232ZM516.7,232L516.7,239L518.4,263.3L518.9,264.4L520,264.9L524.1,264.9L525.2,264.4L525.7,263.3L526.6,239L526.6,232ZM526.2,232L526.2,239L529.4,377L529.9,378.1L531,378.6L533.8,378.6L534.9,378.1L535.4,377L538.1,239L538.1,232ZM543.9,232L543.9,239L545.6,259.9L546,261L547.2,261.5L550.4,261.5L551.5,261L552,259.9L554,239L554,232ZM560.8,232L560.8,239L560.8,259L561.3,260.2L562.4,260.6L571.6,260.6L572.7,260.2L573.2,259L574.9,239L574.9,232ZM560.8,232L560.8,239L563.6,335.4L564,336.5L565.2,337L567.7,337L568.8,336.5L569.3,335.4L571,239L571,232ZM581.2,232L581.2,239L582.9,263.3L583.4,264.4L584.5,264.9L588.1,264.9L589.2,264.4L589.7,263.3L591,239L591,232ZM591.9,232L591.9,239L594.4,335.4L594.9,336.5L596,337L599.6,337L600.7,336.5L601.2,335.4L603.8,239L603.8,232ZM611.7,232L611.7,239L613.1,241.2L613.6,242.3L614.7,242.8L617.4,242.8L618.6,242.3L619,241.2L620.2,239L620.2,232ZM625,232L625,239L626.7,263.3L627.2,264.4L628.3,264.9L631.9,264.9L633,264.4L633.5,263.3L635.2,239L635.2,232ZM675.1,232L675.1,239L676.7,263.3L677.2,264.4L678.3,264.9L681.4,264.9L682.5,264.4L683,263.3L688.1,239L688.1,232ZM690.3,232L690.3,239L693.7,360L694.2,361.1L695.3,361.6L705.2,361.6L706.3,361.1L706.8,360L706.8,239L706.8,232ZM695.4,232L695.4,239L697.5,413.5L697.9,414.6L699.1,415.1L702.3,415.1L703.4,414.6L703.9,413.5L705.6,239L705.6,232ZM709.8,232L709.8,239L712.7,263.3L713.2,264.4L714.3,264.9L722.2,264.9L723.3,264.4L723.8,263.3L725.8,239L725.8,232ZM739,232L739,239L741.1,263.3L741.6,264.4L742.7,264.9L746.3,264.9L747.4,264.4L747.9,263.3L750.6,239L750.6,232ZM758,232L758,239L762.5,335.4L762.9,336.5L764.1,337L768.8,337L770,336.5L770.4,335.4L774.2,239L774.2,232ZM773,232L773,239L773,259.9L773.5,261L774.6,261.5L775.1,261.5L776.2,261L776.7,259.9L776.7,239L776.7,232ZM775.5,232L775.5,239L777.7,360L778.2,361.1L779.3,361.6L791.4,361.6L792.5,361.1L793,360L793,239L793,232ZM782.8,232L782.8,239L785.4,605.9L785.8,607.1L787,607.5L790.2,607.5L791.3,607.1L791.8,605.9L793,239L793,232ZM806.1,232L806.1,239L808.1,259.9L808.6,261L809.7,261.5L812.4,261.5L813.6,261L814,259.9L816.6,239L816.6,232ZM819.8,232L819.8,239L819.8,257.3L820.3,258.5L821.4,258.9L830.4,258.9L831.6,258.5L832,257.3L834.4,239L834.4,232ZM819.8,232L819.8,239L822.9,358.3L823.4,359.4L824.5,359.9L826.5,359.9L827.7,359.4L828.1,358.3L830,239L830,232ZM843.4,232L843.4,239L846,259.9L846.4,261L847.6,261.5L857.1,261.5L858.2,261L858.7,259.9L859.5,239L859.5,232ZM858.3,232L858.3,239L860.9,360L861.4,361.1L862.5,361.6L869.8,361.6L870.9,361.1L871.4,360L871.7,239L871.7,232ZM864.3,232L864.3,239L866.3,605.9L866.8,607.1L867.9,607.5L870.7,607.5L871.8,607.1L872.3,605.9L872.3,239L872.3,232ZM873.4,232L873.4,239L873.8,601.9L874.3,603L875.4,603.5L877.3,603.5L878.4,603L878.9,601.9L880.9,239L880.9,232ZM871.1,232L871.1,239L871.1,600.5L871.6,601.6L872.7,602.1L873.2,602.1L874.3,601.6L874.8,600.5L874.8,239L874.8,232ZM874.8,232L874.8,239L874.8,259L875.3,260.2L876.4,260.6L884.2,260.6L885.4,260.2L885.8,259L886.7,239L886.7,232ZM885.8,232L885.8,239L887.5,259.9L888,261L889.1,261.5L892.7,261.5L893.8,261L894.3,259.9L896,239L896,232ZM902.8,232L902.8,239L905.7,289.6L906.2,290.7L907.3,291.2L912.6,291.2L913.7,290.7L914.2,289.6L914.2,239L914.2,232ZM912.1,232L912.1,239L914.9,335.4L915.3,336.5L916.5,337L919.5,337L920.7,336.5L921.1,335.4L923,239L923,232ZM924.4,232L924.4,239L927.1,263.3L927.6,264.4L928.7,264.9L932.6,264.9L933.7,264.4L934.2,263.3L934.2,239L934.2,232ZM933.2,232L933.2,239L935.9,361.2L936.4,362.3L937.5,362.8L940.7,362.8L941.9,362.3L942.3,361.2L944.7,239L944.7,232ZM947.4,232L947.4,239L949.1,259.9L949.6,261L950.7,261.5L952.5,261.5L953.6,261L954.1,259.9L954.6,239L954.6,232ZM953.4,232L953.4,239L956.1,335.4L956.6,336.5L957.7,337L959.9,337L961.1,336.5L961.5,335.4L964.3,239L964.3,232ZM966.6,232L966.6,239L970,293.8L970.5,295L971.6,295.4L974.2,295.4L975.3,295L975.8,293.8L977.8,239L977.8,232ZM985.6,232L985.6,239L988.7,241L989,241.7L989.7,242L989.7,242L990.4,241.7L990.7,241L990.7,239L990.7,232ZM988.7,232L988.7,239L992.1,595L994.5,606.9L995.5,607.9L999.1,607.9L1000.1,606.9L1001.8,595L1006,239L1006,232ZM1011.9,232L1011.9,239L1013.6,259.9L1014.1,261L1015.2,261.5L1018,261.5L1019.1,261L1019.6,259.9L1019.9,239L1019.9,232ZM1017.9,232L1017.9,239L1019.6,263.3L1020.1,264.4L1021.2,264.9L1023.9,264.9L1025,264.4L1025.5,263.3L1028.1,239L1028.1,232ZM1034.5,232L1034.5,239L1034.5,262.8L1035,263.9L1036.1,264.4L1047.2,264.4L1048.3,263.9L1048.8,262.8L1051.3,239L1051.3,232ZM1034.5,232L1034.5,239L1037.2,339.3L1037.7,340.4L1038.8,340.9L1041.1,340.9L1042.2,340.4L1042.7,339.3L1045,239L1045,232ZM1053.5,232L1053.5,239L1060,581.4L1062,595.7L1063,596.7L1067.3,596.7L1068.3,595.7L1072.2,581.4L1074.7,239L1074.7,232ZM1074.7,232L1074.7,239L1077.3,339.3L1077.8,340.4L1078.9,340.9L1082.5,340.9L1083.6,340.4L1084.1,339.3L1087.8,239L1087.8,232ZM1067.1,232L1067.1,239L1067.1,263.3L1067.6,264.4L1068.7,264.9L1085,264.9L1086.1,264.4L1086.6,263.3L1087.8,239L1087.8,232ZM1096.5,232L1096.5,239L1100.2,262.8L1100.6,263.7L1101.5,264L1101.5,264L1102.4,263.7L1102.7,262.8L1102.7,239L1102.7,232ZM1100,232L1100,239L1102.2,598L1103.1,606.9L1104.1,607.9L1107.7,607.9L1108.7,606.9L1110.9,598L1113.3,239L1113.3,232ZM1119.4,232L1119.4,239L1122.4,361.2L1122.9,362.3L1124,362.8L1126.6,362.8L1127.7,362.3L1128.2,361.2L1131.1,239L1131.1,232ZM1141.1,232L1141.1,239L1143.5,263.3L1144,264.4L1145.1,264.9L1146.1,264.9L1147.2,264.4L1147.7,263.3L1147.7,239L1147.7,232ZM1146,232L1146,239L1148.6,335.4L1149,336.5L1150.2,337L1153.8,337L1154.9,336.5L1155.4,335.4L1157.4,239L1157.4,232ZM1160.4,232L1160.4,239L1162.8,259.9L1163.3,261L1164.4,261.5L1167.3,261.5L1168.4,261L1168.9,259.9L1171,239L1171,232ZM1182.5,232L1182.5,239L1185.6,363.4L1186,364.5L1187.2,365L1196.5,365L1197.6,364.5L1198.1,363.4L1198.1,239L1198.1,232ZM1187.3,232L1187.3,239L1189,584.8L1190,592.3L1191,593.3L1193.9,593.3L1194.9,592.3L1196.1,584.8L1197.8,239L1197.8,232ZM1201,232L1201,239L1203.2,574.3L1206.1,588.5L1207.1,589.5L1211.9,589.5L1212.9,588.5L1215.8,574.3L1218,239L1218,232ZM1228.9,232L1228.9,239L1230.2,576.3L1232.4,591.6L1233.4,592.6L1238.6,592.6L1239.6,591.6L1243,576.3L1244,239L1244,232ZM1244,232L1244,239L1246.5,596.7L1247.7,599.6L1248.7,600.6L1259.4,600.6L1260.4,599.6L1262.1,596.7L1263.8,239L1263.8,232ZM1246.5,232L1246.5,239L1246.9,598.4L1247.7,603.8L1248.7,604.8L1250.9,604.8L1251.9,603.8L1252.8,598.4L1253.1,239L1253.1,232ZM1268.9,232L1268.9,239L1271.5,601.4L1274,607.2L1275,608.2L1280.6,608.2L1281.6,607.2L1284.2,601.4L1285.4,239L1285.4,232ZM1284.2,232L1284.2,239L1285.4,598L1291.8,610.6L1292.8,611.6L1299.3,611.6L1300.3,610.6L1302.9,598L1305.9,239L1305.9,232ZM1305.4,232L1305.4,239L1305.4,263.3L1305.9,264.4L1307,264.9L1308.6,264.9L1309.7,264.4L1310.2,263.3L1310.8,239L1310.8,232ZM1311.9,232L1311.9,239L1312.7,413.5L1313.2,414.6L1314.3,415.1L1325.6,415.1L1326.7,414.6L1327.2,413.5L1327.2,239L1327.2,232ZM1312.2,232L1312.2,239L1314.4,572.9L1315.8,584.8L1316.8,585.8L1320.2,585.8L1321.2,584.8L1322.1,572.9L1323.3,239L1323.3,232ZM1327.7,232L1327.7,239L1329.7,263.3L1330.2,264.4L1331.3,264.9L1334.6,264.9L1335.7,264.4L1336.2,263.3L1337.3,239L1337.3,232ZM1339.5,232L1339.5,239L1341.6,263.3L1342.1,264.4L1343.2,264.9L1347.1,264.9L1348.2,264.4L1348.7,263.3L1350.4,239L1350.4,232ZM1354.3,232L1354.3,239L1358.9,581.4L1360.3,591.9L1361.3,592.9L1365.5,592.9L1366.5,591.9L1370.1,581.4L1371.8,239L1371.8,232ZM1371.3,232L1371.3,239L1371.3,262.8L1371.8,263.9L1372.9,264.4L1375.6,264.4L1376.7,263.9L1377.2,262.8L1378.1,239L1378.1,232ZM1376.9,232L1376.9,239L1379.8,358L1380.2,359.1L1381.4,359.6L1383.8,359.6L1384.9,359.1L1385.4,358L1388.6,239L1388.6,232ZM1393.5,232L1393.5,239L1393.5,263.3L1394,264.4L1395.1,264.9L1396,264.9L1397.1,264.4L1397.6,263.3L1397.6,239L1397.6,232ZM1396.7,232L1396.7,239L1397.9,586.5L1399.3,592.8L1400.3,593.8L1404.2,593.8L1405.2,592.8L1406.1,586.5L1410.3,239L1410.3,232ZM1417.1,232L1417.1,239L1420.5,595L1421.7,603.8L1422.7,604.8L1425.4,604.8L1426.4,603.8L1429,595L1431.5,239L1431.5,232ZM1430.7,232L1430.7,239L1430.7,267.9L1431.1,268.7L1432,269.1L1432,269.1L1432.8,268.7L1433.2,267.9L1433.2,239L1433.2,232ZM1432.4,232L1432.4,239L1434.1,418.4L1434.6,419.5L1435.7,420L1443.8,420L1445,419.5L1445.4,418.4L1445.4,239L1445.4,232ZM1439.2,232L1439.2,239L1439.2,574.3L1443.4,603.8L1444.4,604.8L1448.7,604.8L1449.7,603.8L1453.9,574.3L1455.3,239L1455.3,232ZM1448.2,232L1448.2,239L1457.3,571.2L1458,578.7L1459,579.7L1473.8,579.7L1474.8,578.7L1477,571.2L1478.2,239L1478.2,232ZM1463.8,232L1463.8,239L1464.1,579.7L1465.1,599.6L1466.1,600.6L1469.2,600.6L1470.2,599.6L1470.9,579.7L1471.4,239L1471.4,232ZM1477.7,232L1477.7,239L1478.4,263.3L1478.9,264.4L1480,264.9L1483.9,264.9L1485,264.4L1485.5,263.3L1486.7,239L1486.7,232ZM1486.7,232L1486.7,239L1487.9,263.3L1488.4,264.4L1489.5,264.9L1492.4,264.9L1493.5,264.4L1494,263.3L1495.7,239L1495.7,232ZM1494.7,232L1494.7,239L1494.7,245.5L1495.1,246.6L1496.3,247.1L1498.7,247.1L1499.8,246.6L1500.3,245.5L1500.3,239L1500.3,232ZM1498.6,232L1498.6,239L1500.3,267.2L1500.7,268.3L1501.9,268.8L1506.6,268.8L1507.8,268.3L1508.2,267.2L1508.2,239L1508.2,232Z"/>
<rect x="302" y="247.1" width="1" height="21.2" fill="#fff"/>
<rect x="872.3" y="232.6" width="1" height="189.2" fill="#fff"/>
<rect x="1190" y="232.6" width="1" height="20.4" fill="#fff"/>
<rect x="1209.2" y="232.6" width="1" height="129.8" fill="#fff"/>
<rect x="1235.8" y="232.6" width="1" height="94.2" fill="#fff"/>
<rect x="1243.5" y="312.4" width="1" height="229.6" fill="#fff"/>
<rect x="1277.2" y="233.5" width="1.5" height="250" fill="#fff"/>
<rect x="1284.9" y="520.8" width="1" height="54.3" fill="#fff"/>
<rect x="1310.5" y="240.3" width="1" height="24.6" fill="#fff"/>
<rect x="1431.4" y="238.9" width="1" height="30.2" fill="#fff"/>
<rect x="1496.4" y="238.9" width="1" height="8.1" fill="#fff"/>
<path fill="#fff" d="M871.7,232.6L874.8,232.6L874.8,238.9L873.4,252.2L872.3,252.2ZM996.2,232.6L999.2,232.6L999.2,293.7L998.4,293.7L997.9,255.5L996.2,238.9ZM1062.3,232.6L1067.1,232.6L1067.1,415.1L1066.3,459.7L1065.4,497L1064.6,497L1064,424.9L1064,394.7L1062.9,304.8L1062,238.9ZM1252.1,232.6L1256.2,232.6L1256.2,275.9L1255,424.9L1254.8,563.2L1253.6,563.2L1253.6,424.9L1252.1,275.9ZM1296.1,233.5L1300.3,233.5L1300.3,253L1299,253L1299,304.8L1298.1,304.8L1298.1,382.8L1297.3,382.8L1297.3,304.8L1296.1,304.8ZM1445.4,232.6L1448.2,232.6L1448.2,362.5L1447.1,424.9L1447.1,536.9L1446.3,536.9L1446.3,424.9L1445.4,362.5ZM1455.3,277.6L1456.1,277.6L1456.6,424.9L1457,576L1454.4,576L1454.4,424.9Z"/>
</g>
<clipPath id="holes"><path d="M271.7,969.7L272.7,969.7L272.7,982.4L271.7,982.4ZM310.5,926.4L311.5,926.4L311.5,982.4L310.5,982.4ZM507.7,967.2L508.7,967.2L508.7,982.4L507.7,982.4ZM568,963.8L569,963.8L569,982.4L568,982.4ZM681.8,968L682.8,968L682.8,982.4L681.8,982.4ZM766.6,931.5L768.4,931.5L768.4,982.4L766.6,982.4ZM826.4,962.1L827.4,962.1L827.4,982.4L826.4,982.4ZM872.8,962.1L875.8,962.1L875.8,982.4L872.8,982.4ZM997.4,965.5L999.4,965.5L999.4,982.4L997.4,982.4ZM1042,958.7L1043,958.7L1043,982.4L1042,982.4ZM1065.1,749.4L1066.1,749.4L1066.1,780.8L1065.1,780.8ZM1104.8,969.7L1105.8,969.7L1105.8,982.4L1104.8,982.4ZM1150.1,958.7L1151.1,958.7L1151.1,982.4L1150.1,982.4ZM1190.2,924.7L1192.4,924.7L1192.4,982.4L1190.2,982.4ZM1209.1,944.3L1211.6,944.3L1211.6,982.4L1209.1,982.4ZM1236.2,954.4L1238.8,954.4L1238.8,982.4L1236.2,982.4ZM1292.2,912.9L1293.2,912.9L1293.2,982.4L1292.2,982.4ZM1273.2,973.1L1279.2,973.1L1279.2,982.4L1273.2,982.4ZM1319.8,838.2L1321,838.2L1321,908.6L1319.8,908.6ZM1319.4,908.6L1322.4,908.6L1322.4,982.4L1319.4,982.4ZM1361.9,954.8L1366.4,954.8L1366.4,982.4L1361.9,982.4ZM1401.9,952.7L1404.9,952.7L1404.9,982.4L1401.9,982.4ZM1496.9,952.7L1498.9,952.7L1498.9,967L1496.9,967ZM1302.6,958.7L1304.1,958.7L1304.1,982.4L1302.6,982.4ZM1424,966.3L1425.5,966.3L1425.5,982.4L1424,982.4ZM302,247.1L303,247.1L303,268.3L302,268.3ZM872.3,232.6L873.3,232.6L873.3,421.9L872.3,421.9ZM1190,232.6L1191,232.6L1191,253L1190,253ZM1209.2,232.6L1210.2,232.6L1210.2,362.5L1209.2,362.5ZM1235.8,232.6L1236.8,232.6L1236.8,326.8L1235.8,326.8ZM1243.5,312.4L1244.5,312.4L1244.5,542L1243.5,542ZM1277.2,233.5L1278.7,233.5L1278.7,483.5L1277.2,483.5ZM1284.9,520.8L1285.9,520.8L1285.9,575.1L1284.9,575.1ZM1310.5,240.3L1311.5,240.3L1311.5,264.9L1310.5,264.9ZM1431.4,238.9L1432.4,238.9L1432.4,269.1L1431.4,269.1ZM1496.4,238.9L1497.4,238.9L1497.4,247.1L1496.4,247.1ZM698.6,881.8L699.5,881.8L700.5,952.7L700.7,982.4L698,982.4L698.1,952.7ZM1062.2,943.1L1063.4,947.8L1068,947.8L1068,978.4L1062.2,978.4ZM1250.6,952.1L1254,952.1L1255.3,969.7L1258.2,982.4L1248.9,982.4L1249.4,969.7ZM1439.8,910L1440.7,910L1441,920L1442.2,941L1443.4,952.9L1444.3,962.9L1445.8,965.5L1449,967L1450.2,968L1450.2,983.3L1439.8,983.3ZM1463.3,973.1L1472.9,973.1L1472.9,983.3L1463.3,983.3ZM1486,947L1487.2,950.4L1488.4,947ZM231.9,982L233.4,980.8L234.8,980.8L236.3,982ZM272.2,982L273.7,980.8L275.1,980.8L276.6,982ZM269,982L271.7,979L272.7,979L275.4,982ZM295,982L296.5,980.8L297.9,980.8L299.4,982ZM311.4,982L312.9,980.8L314.3,980.8L315.8,982ZM307.8,982L310.5,979L311.5,979L314.2,982ZM330.5,982L332,980.8L333.4,980.8L334.9,982ZM372.6,982L374.1,980.8L375.5,980.8L377,982ZM379.3,982L380.8,980.8L382.2,980.8L383.7,982ZM448,982L449.5,980.8L450.9,980.8L452.4,982ZM463.9,982L465.4,980.8L466.8,980.8L468.3,982ZM479.8,982L481.3,980.8L482.7,980.8L484.2,982ZM508.1,982L509.6,980.8L511,980.8L512.5,982ZM505,982L507.7,979L508.7,979L511.4,982ZM520.7,982L522.2,980.8L523.6,980.8L525.1,982ZM531.1,982L532.6,980.8L534,980.8L535.5,982ZM547.3,982L548.8,980.8L550.2,980.8L551.7,982ZM565.1,982L566.6,980.8L568,980.8L569.5,982ZM565.3,982L568,979L569,979L571.7,982ZM584.6,982L586.1,980.8L587.5,980.8L589,982ZM596.9,982L598.4,980.8L599.8,980.8L601.3,982ZM628.9,982L630.4,980.8L631.8,980.8L633.3,982ZM678.6,982L680.1,980.8L681.5,980.8L683,982ZM684.7,982L686.2,980.8L687.6,980.8L689.1,982ZM679.1,982L681.8,979L682.8,979L685.5,982ZM699.4,982L700.9,980.8L702.3,980.8L703.8,982ZM712.6,982L714.1,980.8L715.5,980.8L717,982ZM719.5,982L721,980.8L722.4,980.8L723.9,982ZM743.3,982L744.8,980.8L746.2,980.8L747.7,982ZM762.7,982L764.2,980.8L765.6,980.8L767.1,982ZM769.1,982L770.6,980.8L772,980.8L773.5,982ZM764.3,982L767,979L768,979L770.7,982ZM787,982L788.5,980.8L789.9,980.8L791.4,982ZM809.9,982L811.4,980.8L812.8,980.8L814.3,982ZM824.2,982L825.7,980.8L827.1,980.8L828.6,982ZM830.6,982L832.1,980.8L833.5,980.8L835,982ZM823.7,982L826.4,979L827.4,979L830.1,982ZM867.2,982L868.7,980.8L870.1,980.8L871.6,982ZM871.1,982L873.8,979L874.8,979L877.5,982ZM886.6,982L888.1,980.8L889.5,980.8L891,982ZM907,982L908.5,980.8L909.9,980.8L911.4,982ZM916.2,982L917.7,980.8L919.1,980.8L920.6,982ZM937.9,982L939.4,980.8L940.8,980.8L942.3,982ZM957.3,982L958.8,980.8L960.2,980.8L961.7,982ZM971.4,982L972.9,980.8L974.3,980.8L975.8,982ZM993.7,982L995.2,980.8L996.6,980.8L998.1,982ZM995.2,982L997.9,979L998.9,979L1001.6,982ZM1014.4,982L1015.9,980.8L1017.3,980.8L1018.8,982ZM1021.5,982L1023,980.8L1024.4,980.8L1025.9,982ZM1039.3,982L1040.8,980.8L1042.2,980.8L1043.7,982ZM1046.4,982L1047.9,980.8L1049.3,980.8L1050.8,982ZM1039.3,982L1042,979L1043,979L1045.7,982ZM1068.3,982L1069.8,980.8L1071.2,980.8L1072.7,982ZM1079.3,982L1080.8,980.8L1082.2,980.8L1083.7,982ZM1103.5,982L1105,980.8L1106.4,980.8L1107.9,982ZM1108.6,982L1110.1,980.8L1111.5,980.8L1113,982ZM1102.1,982L1104.8,979L1105.8,979L1108.5,982ZM1124.3,982L1125.8,980.8L1127.2,980.8L1128.7,982ZM1150.3,982L1151.8,980.8L1153.2,980.8L1154.7,982ZM1147.4,982L1150.1,979L1151.1,979L1153.8,982ZM1164.8,982L1166.3,980.8L1167.7,980.8L1169.2,982ZM1192,982L1193.5,980.8L1194.9,980.8L1196.4,982ZM1188.1,982L1190.8,979L1191.8,979L1194.5,982ZM1204.4,982L1205.9,980.8L1207.3,980.8L1208.8,982ZM1212,982L1213.5,980.8L1214.9,980.8L1216.4,982ZM1207.2,982L1209.9,979L1210.9,979L1213.6,982ZM1238.5,982L1240,980.8L1241.4,980.8L1242.9,982ZM1247.2,982L1248.7,980.8L1250.1,980.8L1251.6,982ZM1258,982L1259.5,980.8L1260.9,980.8L1262.4,982ZM1234.3,982L1237,979L1238,979L1240.7,982ZM1272.3,982L1273.8,980.8L1275.2,980.8L1276.7,982ZM1289.3,982L1290.8,980.8L1292.2,980.8L1293.7,982ZM1297.9,982L1299.4,980.8L1300.8,980.8L1302.3,982ZM1308.3,982L1309.8,980.8L1311.2,980.8L1312.7,982ZM1289.5,982L1292.2,979L1293.2,979L1295.9,982ZM1273,982L1275.7,979L1276.7,979L1279.4,982ZM1318.4,982L1319.9,980.8L1321.3,980.8L1322.8,982ZM1317.7,982L1320.4,979L1321.4,979L1324.1,982ZM1327.5,982L1329,980.8L1330.4,980.8L1331.9,982ZM1332.4,982L1333.9,980.8L1335.3,980.8L1336.8,982ZM1343.6,982L1345.1,980.8L1346.5,980.8L1348,982ZM1360.9,982L1362.4,980.8L1363.8,980.8L1365.3,982ZM1367.2,982L1368.7,980.8L1370.1,980.8L1371.6,982ZM1381.3,982L1382.8,980.8L1384.2,980.8L1385.7,982ZM1361,982L1363.7,979L1364.7,979L1367.4,982ZM1400.1,982L1401.6,980.8L1403,980.8L1404.5,982ZM1400.2,982L1402.9,979L1403.9,979L1406.6,982ZM1425.3,982L1426.8,980.8L1428.2,980.8L1429.7,982ZM1440.9,982L1442.4,980.8L1443.8,980.8L1445.3,982ZM1450,982L1451.5,980.8L1452.9,980.8L1454.4,982ZM1300.2,982L1302.9,979L1303.9,979L1306.6,982ZM1421.5,982L1424.2,979L1425.2,979L1427.9,982ZM871.7,232.6L874.8,232.6L874.8,238.9L873.4,252.2L872.3,252.2ZM996.2,232.6L999.2,232.6L999.2,293.7L998.4,293.7L997.9,255.5L996.2,238.9ZM1062.3,232.6L1067.1,232.6L1067.1,415.1L1066.3,459.7L1065.4,497L1064.6,497L1064,424.9L1064,394.7L1062.9,304.8L1062,238.9ZM1252.1,232.6L1256.2,232.6L1256.2,275.9L1255,424.9L1254.8,563.2L1253.6,563.2L1253.6,424.9L1252.1,275.9ZM1296.1,233.5L1300.3,233.5L1300.3,253L1299,253L1299,304.8L1298.1,304.8L1298.1,382.8L1297.3,382.8L1297.3,304.8L1296.1,304.8ZM1445.4,232.6L1448.2,232.6L1448.2,362.5L1447.1,424.9L1447.1,536.9L1446.3,536.9L1446.3,424.9L1445.4,362.5ZM1455.3,277.6L1456.1,277.6L1456.6,424.9L1457,576L1454.4,576L1454.4,424.9Z"/></clipPath>
<g clip-path="url(#holes)"><g><g stroke="#000" stroke-width="2" shape-rendering="crispEdges" fill="none">
<rect x="188" y="43" width="1319" height="943"/>
<line x1="364" y1="985" x2="364" y2="972"/>
<line x1="364" y1="44" x2="364" y2="57"/>
<line x1="542" y1="985" x2="542" y2="972"/>
<line x1="542" y1="44" x2="542" y2="57"/>
<line x1="719" y1="985" x2="719" y2="972"/>
<line x1="719" y1="44" x2="719" y2="57"/>
<line x1="897" y1="985" x2="897" y2="972"/>
<line x1="897" y1="44" x2="897" y2="57"/>
<line x1="1074" y1="985" x2="1074" y2="972"/>
<line x1="1074" y1="44" x2="1074" y2="57"/>
<line x1="1252" y1="985" x2="1252" y2="972"/>
<line x1="1252" y1="44" x2="1252" y2="57"/>
<line x1="1429" y1="985" x2="1429" y2="972"/>
<line x1="1429" y1="44" x2="1429" y2="57"/>
<line x1="189" y1="797" x2="202" y2="797"/>
<line x1="1506" y1="797" x2="1493" y2="797"/>
<line x1="189" y1="609" x2="202" y2="609"/>
<line x1="1506" y1="609" x2="1493" y2="609"/>
<line x1="189" y1="420" x2="202" y2="420"/>
<line x1="1506" y1="420" x2="1493" y2="420"/>
<line x1="189" y1="232" x2="202" y2="232"/>
<line x1="1506" y1="232" x2="1493" y2="232"/>
</g>
<g stroke="#000" stroke-width="1" shape-rendering="crispEdges" fill="none" stroke-dasharray="3 11.324">
<line x1="363.5" y1="986" x2="363.5" y2="43" stroke-dashoffset="0"/>
<line x1="541.5" y1="986" x2="541.5" y2="43" stroke-dashoffset="0"/>
<line x1="718.5" y1="986" x2="718.5" y2="43" stroke-dashoffset="0"/>
<line x1="896.5" y1="986" x2="896.5" y2="43" stroke-dashoffset="0"/>
<line x1="1073.5" y1="986" x2="1073.5" y2="43" stroke-dashoffset="0"/>
<line x1="1251.5" y1="986" x2="1251.5" y2="43" stroke-dashoffset="0"/>
<line x1="1428.5" y1="986" x2="1428.5" y2="43" stroke-dashoffset="0"/>
<line x1="188" y1="797.5" x2="1507" y2="797.5" stroke-dashoffset="0"/>
<line x1="188" y1="608.5" x2="1507" y2="608.5" stroke-dashoffset="0"/>
<line x1="188" y1="420.5" x2="1507" y2="420.5" stroke-dashoffset="0"/>
<line x1="188" y1="231.5" x2="1507" y2="231.5" stroke-dashoffset="0"/>
</g></g></g>
<g>
<text x="363.7" y="1042.8" text-anchor="middle">100</text>
<text x="541.3" y="1042.8" text-anchor="middle">200</text>
<text x="718.8" y="1042.8" text-anchor="middle">300</text>
<text x="896.3" y="1042.8" text-anchor="middle">400</text>
<text x="1073.8" y="1042.8" text-anchor="middle">500</text>
<text x="1251.4" y="1042.8" text-anchor="middle">600</text>
<text x="1428.9" y="1042.8" text-anchor="middle">700</text>
<text x="179.2" y="1005.8" text-anchor="end">0</text>
<text x="179.2" y="817.2" text-anchor="end">50</text>
<text x="179.2" y="628.6" text-anchor="end">100</text>
<text x="179.2" y="440" text-anchor="end">150</text>
<text x="179.2" y="251.4" text-anchor="end">200</text>
<text x="179.2" y="62.8" text-anchor="end">250</text>
<text x="847.6" y="1094" text-anchor="middle">Time [h]</text>
<text transform="translate(68.8,515) rotate(-90)" text-anchor="middle">[units]</text>
</g>
<g>
<rect x="557" y="41" width="950" height="143.5" fill="#fff" stroke="#000" stroke-width="2" shape-rendering="crispEdges"/>
<line x1="576" y1="80" x2="673" y2="80" stroke="#00f" stroke-width="8" shape-rendering="crispEdges"/>
<line x1="576" y1="146" x2="673" y2="146" stroke="#f00" stroke-width="8" shape-rendering="crispEdges"/>
<text x="681.2" y="98" textLength="795" lengthAdjust="spacingAndGlyphs">Number of Power State Transitions</text>
<text x="681.2" y="164" textLength="575.5" lengthAdjust="spacingAndGlyphs">Number of Servers in SM</text>
</g>
</svg></body></html>
